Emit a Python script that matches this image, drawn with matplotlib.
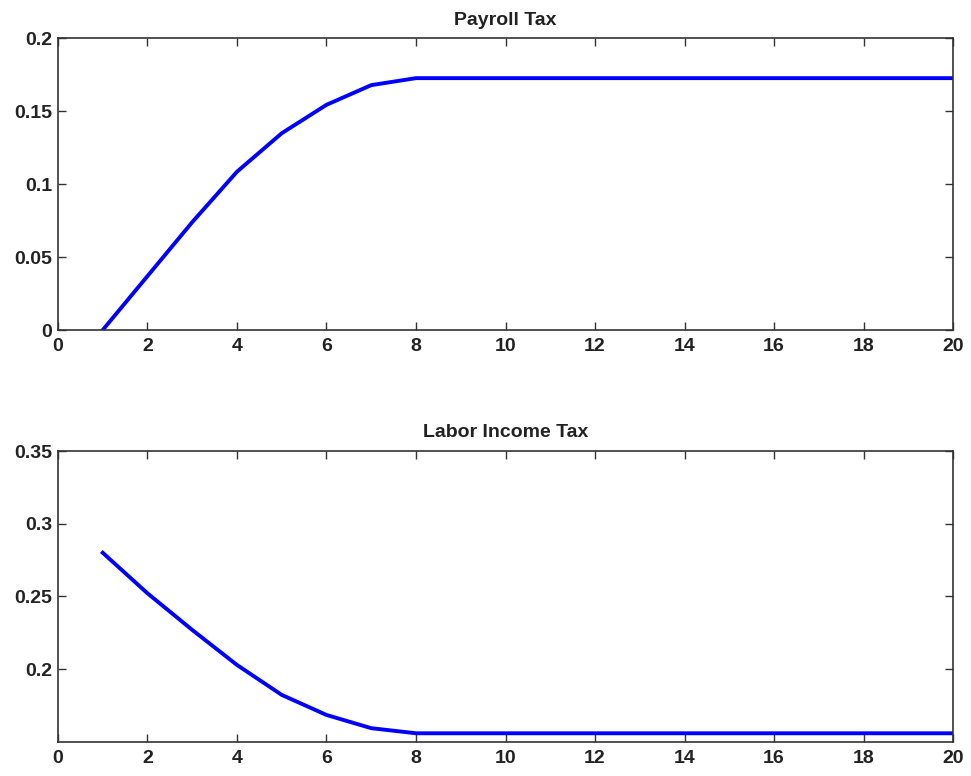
import matplotlib
matplotlib.use("Agg")
import matplotlib.pyplot as plt

periods = list(range(1, 21))
payroll_tax = [0.0, 0.037, 0.074, 0.1086, 0.135, 0.1545, 0.168, 0.1728] + [0.1728] * 12
labor_income_tax = [0.28, 0.2521, 0.2269, 0.2028, 0.1822, 0.1684, 0.1593, 0.1558] + [0.1558] * 12

x_ticks = list(range(0, 21, 2))
top_yticks = [0, 0.05, 0.1, 0.15, 0.2]
top_yticklabels = ["0", "0.05", "0.1", "0.15", "0.2"]
bot_yticks = [0.2, 0.25, 0.3, 0.35]
bot_yticklabels = ["0.2", "0.25", "0.3", "0.35"]

plt.rcParams['font.family'] = ['Liberation Sans', 'DejaVu Sans']
plt.rcParams['font.weight'] = 'bold'

fig = plt.figure(figsize=(9.71, 7.76), dpi=100)
ax1 = fig.add_axes([0.0597, 0.5747, 0.9218, 0.3757])
ax2 = fig.add_axes([0.0597, 0.0442, 0.9218, 0.3746])

line_color = '#0000ff'
spine_color = '#333333'

def style(ax):
    for s in ax.spines.values():
        s.set_color(spine_color)
        s.set_linewidth(1.2)
    ax.tick_params(direction='in', top=True, right=True, length=6, width=1.0,
                   color=spine_color, labelsize=14)
    ax.tick_params(axis='x', pad=6)
    ax.tick_params(axis='y', pad=4)
    for lab in ax.get_xticklabels() + ax.get_yticklabels():
        lab.set_fontweight('bold')
        lab.set_color('#222222')

ax1.plot(periods, payroll_tax, color=line_color, linewidth=2.8)
ax1.set_xlim(0, 20)
ax1.set_ylim(0, 0.2)
ax1.set_xticks(x_ticks)
ax1.set_yticks(top_yticks)
ax1.set_yticklabels(top_yticklabels)
ax1.set_title("Payroll Tax", fontsize=14, fontweight='bold', pad=10, color='#222222')
style(ax1)

ax2.plot(periods, labor_income_tax, color=line_color, linewidth=2.8)
ax2.set_xlim(0, 20)
ax2.set_ylim(0.15, 0.35)
ax2.set_xticks(x_ticks)
ax2.set_yticks(bot_yticks)
ax2.set_yticklabels(bot_yticklabels)
ax2.set_title("Labor Income Tax", fontsize=14, fontweight='bold', pad=10, color='#222222')
style(ax2)

fig.savefig("out.png", dpi=100)
